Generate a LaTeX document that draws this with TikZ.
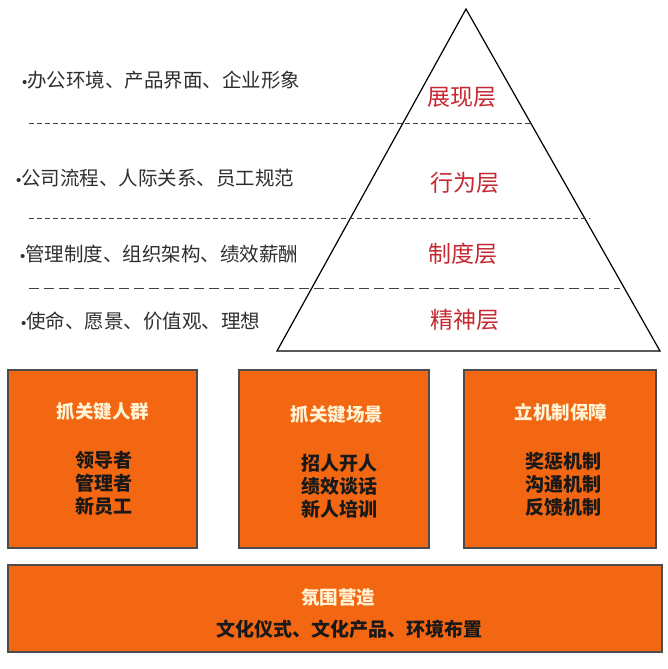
\documentclass[tikz,border=0pt]{standalone}
\usepackage{fontspec}
\setmainfont{Noto Sans CJK SC}
\newfontfamily\bulletfont{Liberation Sans}
\newcommand{\bul}{{\bulletfont\fontsize{15}{18}\selectfont •}}
\definecolor{boxorange}{RGB}{243,103,18}
\definecolor{layerred}{RGB}{196,40,48}
\definecolor{titlecream}{RGB}{255,244,214}
\tikzset{
  item/.style={anchor=west, inner sep=0pt, font=\fontsize{19.5}{22}\selectfont, text=black!82},
  layer/.style={font=\fontsize{23}{26}\selectfont, text=layerred},
  panel/.style={draw=black!70, line width=1.3pt, fill=boxorange, inner sep=0pt},
  paneltitle/.style={font=\bfseries\fontsize{18.5}{22}\selectfont, text=titlecream},
  panelbody/.style={font=\bfseries\fontsize{19}{23}\selectfont, text=black!90, align=center}
}
\begin{document}
\begin{tikzpicture}[x=1pt, y=-1pt]
      \useasboundingbox (0,0) rectangle (668,669);
      % pyramid
      \draw[line width=1.2pt]
        (466,9) coordinate (top)
        -- (660,351) coordinate (right)
        -- (277,351) coordinate (left) -- cycle;
      \begin{scope}[line width=0.9pt, black!75, dash pattern=on 5pt off 3pt]
        \draw (29,123) coordinate (d1a) -- (532,123) coordinate (d1b);
        \draw (29,218) coordinate (d2a) -- (590,218) coordinate (d2b);
        \draw[dash pattern=on 10pt off 5pt] (29,288) coordinate (d3a) -- (620,288) coordinate (d3b);
      \end{scope}
      \draw
        (462,97) node[layer] (L1){展现层}
        (465,183) node[layer] (L2){行为层}
        (463,254) node[layer] (L3){制度层}
        (465,320) node[layer] (L4){精神层};
      \draw
        (22,80) node[item] (T1){\bul 办公环境、产品界面、企业形象}
        (16,178) node[item] (T2){\bul 公司流程、人际关系、员工规范}
        (20,254) node[item] (T3){\bul 管理制度、组织架构、绩效薪酬}
        (21,321) node[item] (T4){\bul 使命、愿景、价值观、理想};
      % panels
      \node[panel, minimum width=189, minimum height=178] (P1) at (102.5,459) {};
      \node[panel, minimum width=190, minimum height=178] (P2) at (334,459) {};
      \node[panel, minimum width=192, minimum height=178] (P3) at (560,459) {};
      \node[panel, minimum width=654, minimum height=87] (P4) at (335,608.5) {};
      \draw
        (103,412) node[paneltitle] (H1){抓关键人群}
        (337,415) node[paneltitle] (H2){抓关键场景}
        (561,412) node[paneltitle] (H3){立机制保障}
        (338,597) node[paneltitle] (H4){氛围营造};
      \draw
        (104,483) node[panelbody] (B1){领导者\\管理者\\新员工}
        (339,486) node[panelbody] (B2){招人开人\\绩效谈话\\新人培训}
        (563,484) node[panelbody] (B3){奖惩机制\\沟通机制\\反馈机制}
        (349,629) node[panelbody] (B4){文化仪式、文化产品、环境布置};
    \end{tikzpicture}
\end{document}
